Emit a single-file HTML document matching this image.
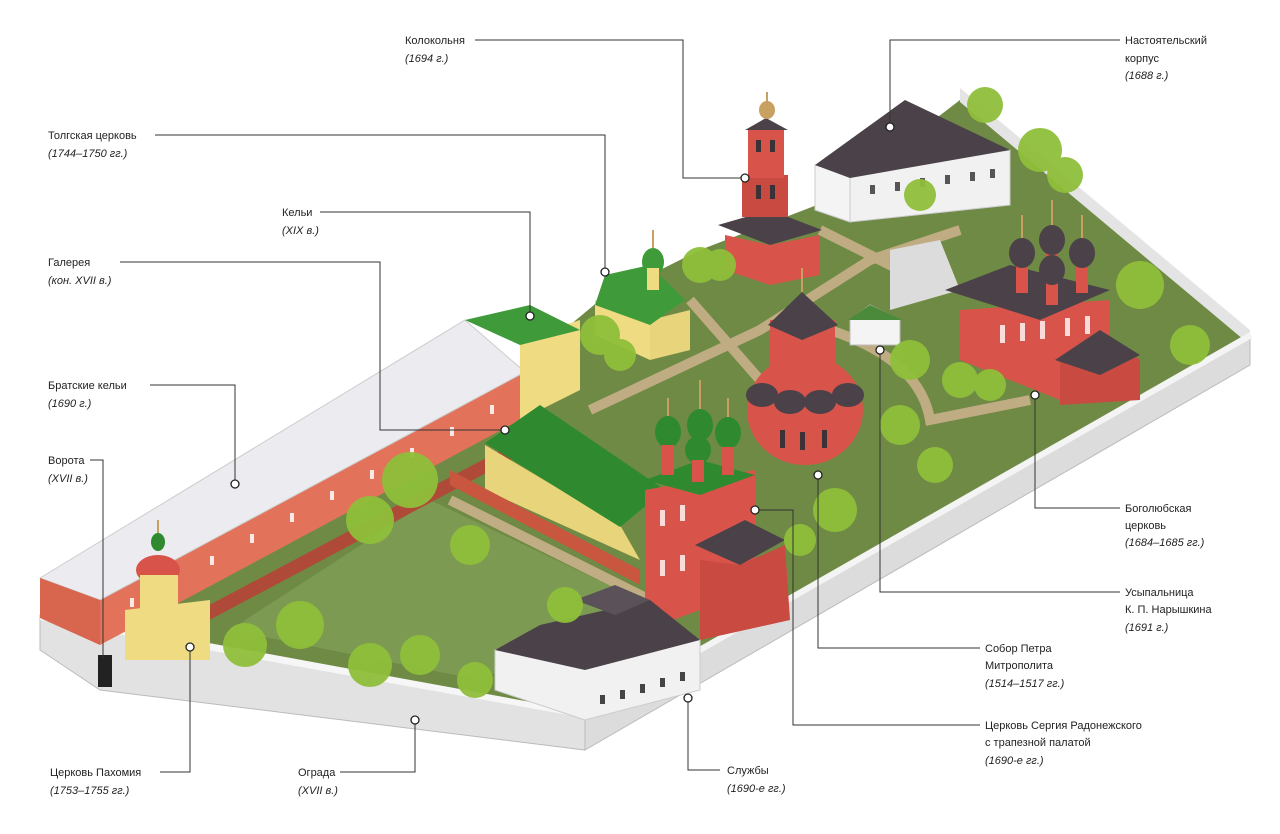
<!DOCTYPE html>
<html><head><meta charset="utf-8"><style>
html,body{margin:0;padding:0;background:#fff;}
svg{display:block;}
text{font-family:"Liberation Sans",sans-serif;font-size:11px;fill:#222;}
.i{font-style:italic;}
</style></head><body>
<svg width="1280" height="834" viewBox="0 0 1280 834" xmlns="http://www.w3.org/2000/svg">
<!-- ground -->
<polygon points="95,630 480,400 600,300 700,250 830,200 960,100 1245,335 590,715" fill="#6f8a45"/>
<g stroke="#c9b08a" stroke-width="10" fill="none" opacity="0.9">
<path d="M590,410 L760,330 L870,260 L960,230"/>
<path d="M690,300 L760,380 L840,440"/>
<path d="M830,330 Q920,360 930,420 L1030,400"/>
<path d="M820,230 L900,270"/>
<path d="M450,500 L650,600"/>
</g>
<polygon points="230,630 430,500 640,600 480,680" fill="#7d9a52"/>
<!-- walls -->
<polygon points="960,88 1250,330 1250,345 960,102" fill="#e4e4e4"/>
<polygon points="585,715 1250,335 1250,365 585,750" fill="#dcdcdc" stroke="#bbb"/>
<polygon points="585,712 1250,332 1252,338 587,718" fill="#f4f4f4"/>
<polygon points="40,615 585,715 585,750 100,690 40,650" fill="#e2e2e2" stroke="#bbb"/>
<polygon points="40,612 585,712 585,718 40,620" fill="#f6f6f6"/>
<rect x="98" y="655" width="14" height="32" fill="#222"/>
<!-- Bratskie kelii -->
<polygon points="100,598 520,372 520,420 100,645" fill="#e2735a"/>
<polygon points="40,578 465,320 525,372 100,600" fill="#ececf0" stroke="#ccc"/>
<polygon points="40,578 100,600 100,645 40,618" fill="#d8654e"/>
<g fill="#fff" opacity="0.85">
<rect x="130" y="598" width="4" height="9"/><rect x="170" y="577" width="4" height="9"/><rect x="210" y="556" width="4" height="9"/><rect x="250" y="534" width="4" height="9"/><rect x="290" y="513" width="4" height="9"/><rect x="330" y="491" width="4" height="9"/><rect x="370" y="470" width="4" height="9"/><rect x="410" y="448" width="4" height="9"/><rect x="450" y="427" width="4" height="9"/><rect x="490" y="405" width="4" height="9"/>
</g>
<g fill="#b04a38"><path d="M200,610 L520,440 L520,455 L200,625Z"/></g>
<polygon points="520,340 580,320 580,390 520,420" fill="#efdc82"/>
<polygon points="465,320 530,305 580,330 520,345" fill="#3f9a3a"/>
<!-- Galereya -->
<polygon points="485,445 620,525 640,560 485,490" fill="#e8d47a"/>
<polygon points="450,470 640,570 640,585 450,485" fill="#c9563f"/>
<polygon points="485,443 540,405 665,490 620,527" fill="#2f8a2f"/>
<!-- Sergius church -->
<polygon points="645,490 755,470 755,590 645,630" fill="#d8544a"/>
<polygon points="645,480 700,460 755,475 700,495" fill="#2f8a2f"/>
<g fill="#fff" opacity="0.8"><rect x="660" y="510" width="5" height="16"/><rect x="680" y="505" width="5" height="16"/><rect x="660" y="560" width="5" height="16"/><rect x="680" y="555" width="5" height="16"/></g>
<polygon points="695,545 745,520 785,540 740,565" fill="#4a4248"/>
<polygon points="700,560 740,565 785,545 790,620 700,640" fill="#c94a40"/>
<g fill="#2f8a2f"><ellipse cx="668" cy="432" rx="13" ry="16"/><ellipse cx="700" cy="425" rx="13" ry="16"/><ellipse cx="728" cy="433" rx="13" ry="16"/><ellipse cx="698" cy="450" rx="13" ry="14"/></g>
<g fill="#d8544a"><rect x="662" y="445" width="12" height="30"/><rect x="722" y="447" width="12" height="28"/><rect x="692" y="460" width="12" height="22"/></g>
<!-- Peter cathedral -->
<ellipse cx="805" cy="410" rx="58" ry="55" fill="#d8544a"/>
<rect x="770" y="320" width="65" height="90" fill="#d8544a"/>
<g fill="#4a4248"><ellipse cx="762" cy="395" rx="16" ry="12"/><ellipse cx="790" cy="402" rx="16" ry="12"/><ellipse cx="820" cy="402" rx="16" ry="12"/><ellipse cx="848" cy="395" rx="16" ry="12"/></g>
<polygon points="768,325 802,292 838,325 802,340" fill="#4a4248"/>
<g fill="#3a3236"><rect x="780" y="430" width="5" height="18"/><rect x="800" y="432" width="5" height="18"/><rect x="822" y="430" width="5" height="18"/></g>
<!-- Bell tower -->
<polygon points="718,225 770,210 822,230 770,245" fill="#4a4248"/>
<polygon points="725,235 770,245 820,235 820,275 770,285 725,270" fill="#d8544a"/>
<rect x="742" y="175" width="46" height="42" fill="#c94a40"/>
<rect x="748" y="130" width="36" height="48" fill="#d8544a"/>
<g fill="#3a3236"><rect x="756" y="140" width="5" height="12"/><rect x="770" y="140" width="5" height="12"/><rect x="756" y="185" width="5" height="14"/><rect x="770" y="185" width="5" height="14"/></g>
<polygon points="745,130 766,118 788,130" fill="#4a4248"/>
<ellipse cx="767" cy="110" rx="8" ry="9" fill="#c8a060"/>
<line x1="767" y1="92" x2="767" y2="102" stroke="#c8a060" stroke-width="2"/>
<!-- Nastoyatelsky -->
<polygon points="815,165 850,175 850,222 815,210" fill="#f4f4f4" stroke="#ccc"/>
<polygon points="850,175 1010,150 1010,205 850,222" fill="#f1f1f1" stroke="#ccc"/>
<polygon points="815,165 905,100 1010,150 850,178" fill="#4a4248"/>
<g fill="#555"><rect x="870" y="185" width="5" height="9"/><rect x="895" y="182" width="5" height="9"/><rect x="920" y="178" width="5" height="9"/><rect x="945" y="175" width="5" height="9"/><rect x="970" y="172" width="5" height="9"/><rect x="990" y="169" width="5" height="9"/></g>
<!-- Tolgskaya -->
<polygon points="595,300 650,320 650,360 595,335" fill="#efdc82"/>
<polygon points="650,320 690,310 690,350 650,360" fill="#e8d47a"/>
<polygon points="595,305 605,275 650,265 685,300 650,325" fill="#3f9a3a"/>
<ellipse cx="653" cy="262" rx="11" ry="14" fill="#3f9a3a"/>
<rect x="647" y="268" width="12" height="22" fill="#efdc82"/>
<!-- Bogolyubskaya -->
<polygon points="890,250 940,240 960,290 890,310" fill="#dcdcdc"/>
<polygon points="960,310 1110,300 1110,390 1060,400 960,360" fill="#d8544a"/>
<g fill="#fff" opacity="0.8"><rect x="1000" y="325" width="5" height="18"/><rect x="1020" y="323" width="5" height="18"/><rect x="1040" y="321" width="5" height="18"/><rect x="1065" y="318" width="5" height="18"/><rect x="1085" y="316" width="5" height="18"/></g>
<polygon points="945,290 1010,265 1110,290 1040,320" fill="#4a4248"/>
<polygon points="1060,360 1105,335 1140,360 1140,400 1060,405" fill="#c94a40"/>
<polygon points="1055,360 1100,330 1140,355 1100,375" fill="#4a4248"/>
<g fill="#d8544a"><rect x="1016" y="258" width="12" height="35"/><rect x="1046" y="245" width="12" height="30"/><rect x="1076" y="258" width="12" height="35"/><rect x="1046" y="275" width="12" height="30"/></g>
<g fill="#4a4248"><ellipse cx="1022" cy="253" rx="13" ry="15"/><ellipse cx="1052" cy="240" rx="13" ry="15"/><ellipse cx="1082" cy="253" rx="13" ry="15"/><ellipse cx="1052" cy="270" rx="13" ry="15"/></g>
<polygon points="850,320 870,305 900,320 900,345 850,345" fill="#f4f4f4" stroke="#bbb"/>
<polygon points="848,320 870,305 902,320" fill="#4a8a3a"/>
<!-- crosses -->
<g stroke="#c8a060" stroke-width="2"><line x1="802" y1="268" x2="802" y2="292"/><line x1="1022" y1="215" x2="1022" y2="238"/><line x1="1052" y1="200" x2="1052" y2="225"/><line x1="1082" y1="215" x2="1082" y2="238"/><line x1="668" y1="398" x2="668" y2="416"/><line x1="700" y1="380" x2="700" y2="409"/><line x1="728" y1="398" x2="728" y2="417"/><line x1="653" y1="230" x2="653" y2="248"/><line x1="158" y1="520" x2="158" y2="533"/></g>
<!-- Pakhomiy -->
<polygon points="125,610 210,600 210,660 125,660" fill="#efdc82"/>
<ellipse cx="158" cy="570" rx="22" ry="15" fill="#d8544a"/>
<rect x="140" y="575" width="38" height="40" fill="#efdc82"/>
<ellipse cx="158" cy="542" rx="7" ry="9" fill="#2f8a2f"/>
<!-- Sluzhby -->
<polygon points="495,650 580,625 700,640 700,690 585,720 495,690" fill="#f1f1f1" stroke="#ccc"/>
<polygon points="495,650 540,625 650,600 700,640 585,670" fill="#4a4248"/>
<polygon points="575,600 615,585 650,600 615,615" fill="#5a5258"/>
<g fill="#444"><rect x="600" y="695" width="5" height="9"/><rect x="620" y="690" width="5" height="9"/><rect x="640" y="684" width="5" height="9"/><rect x="660" y="678" width="5" height="9"/><rect x="680" y="672" width="5" height="9"/></g>
<!-- trees -->
<g fill="#8fbf3a" opacity="0.95">
<circle cx="410" cy="480" r="28"/><circle cx="370" cy="520" r="24"/><circle cx="470" cy="545" r="20"/><circle cx="300" cy="625" r="24"/><circle cx="245" cy="645" r="22"/><circle cx="370" cy="665" r="22"/><circle cx="420" cy="655" r="20"/><circle cx="475" cy="680" r="18"/><circle cx="565" cy="605" r="18"/>
<circle cx="600" cy="335" r="20"/><circle cx="620" cy="355" r="16"/><circle cx="700" cy="265" r="18"/><circle cx="720" cy="265" r="16"/>
<circle cx="985" cy="105" r="18"/><circle cx="1040" cy="150" r="22"/><circle cx="1065" cy="175" r="18"/><circle cx="920" cy="195" r="16"/>
<circle cx="1140" cy="285" r="24"/><circle cx="1190" cy="345" r="20"/><circle cx="910" cy="360" r="20"/><circle cx="960" cy="380" r="18"/><circle cx="990" cy="385" r="16"/><circle cx="900" cy="425" r="20"/><circle cx="935" cy="465" r="18"/><circle cx="835" cy="510" r="22"/><circle cx="800" cy="540" r="16"/>
</g>
<!-- connectors -->
<g stroke="#333" stroke-width="1" fill="none">
<polyline points="475,40 683,40 683,178 745,178"/>
<polyline points="1120,40 890,40 890,127"/>
<polyline points="155,135 605,135 605,272"/>
<polyline points="320,212 530,212 530,316"/>
<polyline points="120,262 380,262 380,430 505,430"/>
<polyline points="150,385 235,385 235,484"/>
<polyline points="90,460 103,460 103,658"/>
<polyline points="160,772 190,772 190,647"/>
<polyline points="340,772 415,772 415,720"/>
<polyline points="720,770 688,770 688,698"/>
<polyline points="980,725 793,725 793,510 755,510"/>
<polyline points="980,648 818,648 818,475"/>
<polyline points="1120,592 880,592 880,350"/>
<polyline points="1120,508 1035,508 1035,395"/>
</g>
<g fill="#fff" stroke="#222" stroke-width="1.3">
<circle cx="745" cy="178" r="4"/><circle cx="890" cy="127" r="4"/><circle cx="605" cy="272" r="4"/><circle cx="530" cy="316" r="4"/><circle cx="505" cy="430" r="4"/><circle cx="235" cy="484" r="4"/><circle cx="190" cy="647" r="4"/><circle cx="415" cy="720" r="4"/><circle cx="688" cy="698" r="4"/><circle cx="755" cy="510" r="4"/><circle cx="818" cy="475" r="4"/><circle cx="880" cy="350" r="4"/><circle cx="1035" cy="395" r="4"/>
</g>
<!-- labels -->
<text x="405" y="44">Колокольня</text><text class="i" x="405" y="62">(1694 г.)</text>
<text x="1125" y="44">Настоятельский</text><text x="1125" y="62">корпус</text><text class="i" x="1125" y="79">(1688 г.)</text>
<text x="48" y="139">Толгская церковь</text><text class="i" x="48" y="157">(1744–1750 гг.)</text>
<text x="282" y="216">Кельи</text><text class="i" x="282" y="234">(XIX в.)</text>
<text x="48" y="266">Галерея</text><text class="i" x="48" y="284">(кон. XVII в.)</text>
<text x="48" y="389">Братские кельи</text><text class="i" x="48" y="407">(1690 г.)</text>
<text x="48" y="464">Ворота</text><text class="i" x="48" y="482">(XVII в.)</text>
<text x="50" y="776">Церковь Пахомия</text><text class="i" x="50" y="794">(1753–1755 гг.)</text>
<text x="298" y="776">Ограда</text><text class="i" x="298" y="794">(XVII в.)</text>
<text x="727" y="774">Службы</text><text class="i" x="727" y="792">(1690-е гг.)</text>
<text x="985" y="729">Церковь Сергия Радонежского</text><text x="985" y="746">с трапезной палатой</text><text class="i" x="985" y="764">(1690-е гг.)</text>
<text x="985" y="652">Собор Петра</text><text x="985" y="669">Митрополита</text><text class="i" x="985" y="687">(1514–1517 гг.)</text>
<text x="1125" y="596">Усыпальница</text><text x="1125" y="613">К. П. Нарышкина</text><text class="i" x="1125" y="631">(1691 г.)</text>
<text x="1125" y="512">Боголюбская</text><text x="1125" y="529">церковь</text><text class="i" x="1125" y="546">(1684–1685 гг.)</text>
</svg>
</body></html>
